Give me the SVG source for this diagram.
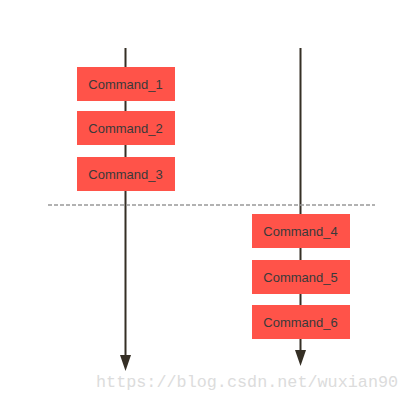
<svg xmlns="http://www.w3.org/2000/svg" width="409" height="400" viewBox="0 0 409 400">
<style>
.box{fill:#ff5349}
.lbl{font-family:"Liberation Sans",Arial,sans-serif;font-size:13px;fill:#3a3a3a;text-anchor:middle}
.line{stroke:#352f25;stroke-width:2;fill:none}
.head{fill:#352f25}
</style>
<rect width="409" height="400" fill="#ffffff"/>
<g id="connectors">
<line class="line" x1="125.5" y1="48" x2="125.5" y2="356"/>
<path class="head" d="M120,355 L131,355 L125.5,371 Z"/>
<line class="line" x1="300.5" y1="48" x2="300.5" y2="351"/>
<path class="head" d="M295,350 L306,350 L300.5,366 Z"/>
<line x1="48" y1="205" x2="375" y2="205" stroke="#999999" stroke-width="1.5" stroke-dasharray="4,2"/>
</g>
<g id="cmd1"><rect class="box" x="77" y="67" width="98" height="34"/><text class="lbl" x="125.5" y="88.5">Command_1</text></g>
<g id="cmd2"><rect class="box" x="77" y="111" width="98" height="34"/><text class="lbl" x="125.5" y="132.5">Command_2</text></g>
<g id="cmd3"><rect class="box" x="77" y="157" width="98" height="34"/><text class="lbl" x="125.5" y="178.5">Command_3</text></g>
<g id="cmd4"><rect class="box" x="252" y="214" width="98" height="34"/><text class="lbl" x="300.5" y="235.5">Command_4</text></g>
<g id="cmd5"><rect class="box" x="252" y="260" width="98" height="34"/><text class="lbl" x="300.5" y="281.5">Command_5</text></g>
<g id="cmd6"><rect class="box" x="252" y="305" width="98" height="34"/><text class="lbl" x="300.5" y="326.5">Command_6</text></g>
<text x="96" y="387" font-family="Liberation Mono,monospace" font-size="16.8" fill="#dcdcdc">https://blog.csdn.net/wuxian90</text>
</svg>
